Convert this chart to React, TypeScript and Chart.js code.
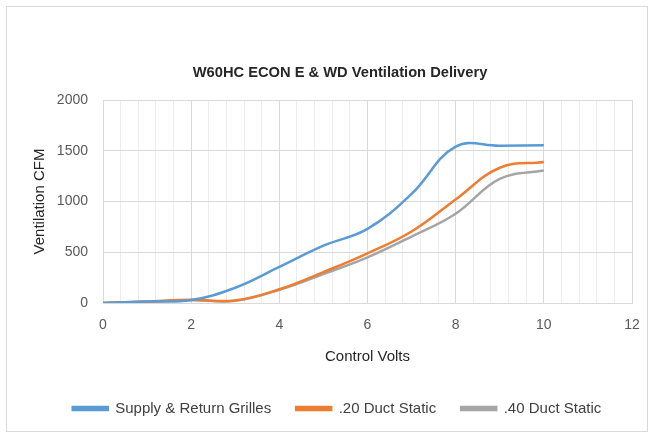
import React, { useEffect, useRef } from "react";
import { Chart, registerables } from "chart.js";

Chart.register(...registerables);

const xValues = [0, 1, 2, 3, 4, 5, 6, 7, 8, 9, 10];
const supplyReturn = [0, 15, 30, 150, 355, 565, 730, 1075, 1540, 1550, 1555];
const duct20 = [0, 15, 32, 25, 135, 305, 490, 705, 1020, 1333, 1390];
const duct40 = [0, 12, 28, 22, 130, 285, 450, 655, 880, 1222, 1305];
const seriesNames = ["Supply & Return Grilles", ".20 Duct Static", ".40 Duct Static"];
const seriesColors = ["#5B9BD5", "#ED7D31", "#A5A5A5"];
const chartTitle = "W60HC ECON E & WD Ventilation Delivery";
const xTitle = "Control Volts";
const yTitle = "Ventilation CFM";

const FONT = "'Liberation Sans', Arial, sans-serif";

const isMajorX = (v: number) => Math.abs(v / 2 - Math.round(v / 2)) < 1e-6;

const borderPlugin = {
  id: "outerBorder",
  beforeDraw(chart: any) {
    const { ctx } = chart;
    ctx.save();
    ctx.fillStyle = "#ffffff";
    ctx.fillRect(0, 0, chart.width, chart.height);
    ctx.strokeStyle = "#d9d9d9";
    ctx.lineWidth = 1;
    ctx.strokeRect(6.5, 6.5, 641, 425);
    ctx.restore();
  },
};

const shiftPlugin = {
  id: "shiftBlocks",
  afterLayout(chart: any) {
    if (chart.titleBlock) {
      chart.titleBlock.left += 21;
      chart.titleBlock.right += 21;
    }
    if (chart.legend) {
      chart.legend.left += 18;
      chart.legend.right += 18;
    }
  },
};

export default function App() {
  const ref = useRef<HTMLCanvasElement | null>(null);

  useEffect(() => {
    document.body.style.margin = "0";
    const canvas = ref.current;
    if (!canvas) return;
    const mk = (vals: number[]) => xValues.map((x, i) => ({ x, y: vals[i] }));
    const data = [supplyReturn, duct20, duct40];
    const chart = new Chart(canvas, {
      type: "line",
      data: {
        datasets: data.map((vals, i) => ({
          label: seriesNames[i],
          data: mk(vals),
          borderColor: seriesColors[i],
          backgroundColor: seriesColors[i],
          borderWidth: 2.5,
          pointRadius: 0,
          tension: 0.4,
          fill: false,
        })),
      },
      options: {
        animation: false,
        responsive: false,
        maintainAspectRatio: false,
        layout: { padding: { left: 6, right: 22, top: 0, bottom: 10 } },
        plugins: {
          title: {
            display: true,
            text: chartTitle,
            color: "#262626",
            font: { family: FONT, size: 14.7, weight: "bold" },
            padding: { top: 64.2, bottom: 18.2 },
          },
          legend: {
            position: "bottom",
            labels: {
              boxWidth: 35,
              boxHeight: 3,
              padding: 25,
              color: "#404040",
              font: { family: FONT, size: 15 },
            },
          },
          tooltip: { enabled: false },
        },
        scales: {
          x: {
            type: "linear",
            min: 0,
            max: 12,
            afterFit(scale: any) {
              scale.height = 73;
            },
            ticks: {
              stepSize: 0.4,
              autoSkip: false,
              maxRotation: 0,
              padding: 14,
              color: "#595959",
              font: { family: FONT, size: 14 },
              callback: (v: any) => (isMajorX(Number(v)) ? String(Math.round(Number(v))) : ""),
            },
            grid: {
              drawTicks: false,
              color: (c: any) => (isMajorX(c.tick.value) ? "#d9d9d9" : "#ececec"),
            },
            border: { color: "#d9d9d9" },
            title: {
              display: true,
              text: xTitle,
              color: "#262626",
              font: { family: FONT, size: 15 },
              padding: { top: 0, bottom: 10 },
            },
          },
          y: {
            min: 0,
            max: 2000,
            afterFit(scale: any) {
              scale.width = 97;
            },
            ticks: {
              stepSize: 500,
              padding: 15,
              color: "#595959",
              font: { family: FONT, size: 14 },
              callback: (v: any) => String(v),
            },
            grid: { drawTicks: false, color: "#d9d9d9" },
            border: { color: "#d9d9d9" },
            title: {
              display: true,
              text: yTitle,
              color: "#262626",
              font: { family: FONT, size: 15 },
              padding: { top: 25, bottom: 0 },
            },
          },
        },
      },
      plugins: [borderPlugin, shiftPlugin],
    } as any);
    return () => chart.destroy();
  }, []);

  return (
    <div style={{ width: 654, height: 436 }}>
      <canvas ref={ref} width={654} height={436} style={{ display: "block" }} />
    </div>
  );
}
